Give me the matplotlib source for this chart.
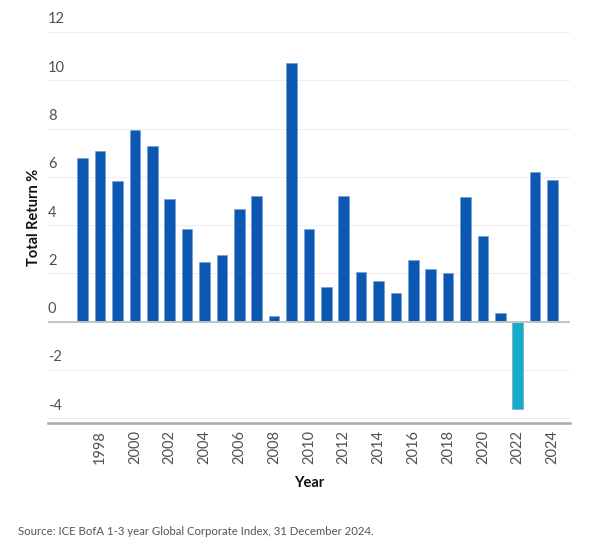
import matplotlib.pyplot as plt
import matplotlib.transforms as mtransforms

plt.rcParams['font.family'] = ['Lato', 'DejaVu Sans']

years = list(range(1997, 2025))
returns = [6.79, 7.09, 5.81, 7.96, 7.26, 5.09, 3.85, 2.46, 2.77, 4.65,
           5.21, 0.25, 10.70, 3.82, 1.42, 5.21, 2.04, 1.70, 1.17, 2.54,
           2.18, 2.00, 5.17, 3.53, 0.37, -3.61, 6.18, 5.85]
y_ticks = [-4, -2, 0, 2, 4, 6, 8, 10, 12]
x_ticks = list(range(1998, 2025, 2))

BLUE = '#0b57b2'
TEAL = '#15adc5'
colors = [TEAL if v < 0 else BLUE for v in returns]

fig = plt.figure(figsize=(6.05, 5.47), dpi=100)
ax = fig.add_axes([0.0793, 0.2267, 0.8627, 0.7148])

ax.bar(years, returns, width=0.61, color=colors, edgecolor='#6f9bd6',
       linewidth=0.4, zorder=3)

ax.set_xlim(1995.0, 2025.0)
ax.set_ylim(-4.2, 12)

# light gridlines, with labels sitting above each line
for v in y_ticks:
    ax.axhline(v, color='#eeeeee', linewidth=0.8, zorder=1)
ax.axhline(0, color='#c4c4c4', linewidth=1.4, zorder=4)
ax.set_yticks([])
trans = mtransforms.blended_transform_factory(ax.transAxes, ax.transData)
offset = mtransforms.ScaledTranslation(0, 4 / 72, fig.dpi_scale_trans)
for v in y_ticks:
    ax.text(0, v, str(v), transform=trans + offset,
            ha='left', va='bottom', fontsize=10.5, color='#505050',
            clip_on=False)

ax.set_xticks(x_ticks)
ax.set_xticklabels([str(x) for x in x_ticks], rotation=90, fontsize=10.5,
                   color='#505050')
ax.tick_params(axis='x', length=0, pad=5)

for side in ['top', 'right', 'left']:
    ax.spines[side].set_visible(False)
ax.spines['bottom'].set_color('#a8a8a8')
ax.spines['bottom'].set_linewidth(1.8)

ax.set_xlabel('Year', fontsize=10.5, fontweight='bold', color='#111111',
              labelpad=9)
fig.text(0.056, 0.603, 'Total Return %', rotation=90, fontsize=10.5,
         fontweight='bold', color='#111111', ha='center', va='center')

fig.text(0.03, 0.018, 'Source: ICE BofA 1-3 year Global Corporate Index, 31 December 2024.',
         fontsize=8.2, color='#555555', ha='left', va='bottom')

fig.savefig('out.png', dpi=100)
